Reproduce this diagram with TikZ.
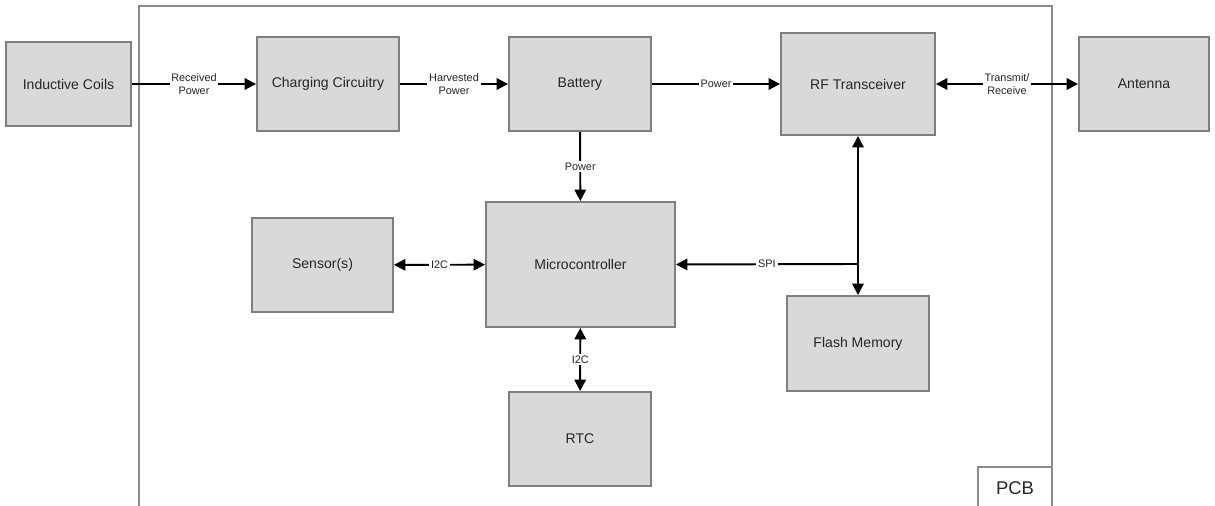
\documentclass[tikz,border=0pt]{standalone}
\usepackage{fontspec}
\setmainfont{Liberation Sans}
\usetikzlibrary{arrows.meta, positioning}
\definecolor{cfill}{HTML}{D9D9D9}
\definecolor{cedge}{HTML}{7F7F7F}
\definecolor{cframe}{HTML}{8C8C8C}
\definecolor{ctext}{HTML}{262626}
\tikzset{
  every picture/.style={line width=1pt},
  block/.style={draw=cedge, fill=cfill, line width=1.1pt, align=center, inner sep=2pt, text=ctext,
    font=\fontsize{8}{9.5}\selectfont, minimum width=#1},
  block/.default=2.84cm,
  link/.style={draw=black, line width=1.1pt},
  tip/.style={-{Triangle[length=6.5pt, width=6.5pt]}},
  tips/.style={{Triangle[length=6.5pt, width=6.5pt]}-{Triangle[length=6.5pt, width=6.5pt]}},
  lbl/.style={fill=white, inner sep=1pt, align=center, text=ctext, font=\fontsize{6.2}{7}\selectfont},
}

\begin{document}
\begin{tikzpicture}[x=0.02cm, y=-0.02cm]
  \useasboundingbox (0,0) rectangle (1215,506);
  % PCB outline, open at the bottom edge
  \draw[cframe, line width=1.1pt] (139,520) -- (139,6) -- (1052,6) -- (1052,520);
  \draw[cframe, line width=1.1pt] (978,520) -- (978,467) -- (1052,467);
  \node[text=ctext, font=\fontsize{10.5}{12}\selectfont] (pcb) at (1015,488) {PCB};
  % top row
  \node[block=2.5cm, minimum height=1.68cm] (coils) at (68.5,84) {Inductive Coils};
  \node[block, minimum height=1.88cm] (charge) at (328,84) {Charging Circuitry};
  \node[block, minimum height=1.88cm] (battery) at (580,84) {Battery};
  \node[block=3.08cm, minimum height=2.04cm] (rf) at (858,84) {RF Transceiver};
  \node[block=2.6cm, minimum height=1.88cm] (antenna) at (1144,84) {Antenna};
  % middle and bottom
  \node[block=2.82cm, minimum height=1.88cm] (sensor) at (322.5,265) {Sensor(s)};
  \node[block=3.78cm, minimum height=2.5cm] (mcu) at (580.5,264.5) {Microcontroller};
  \node[block, minimum height=1.88cm] (rtc) at (580,439) {RTC};
  \node[block, minimum height=1.9cm] (flash) at (858,343.5) {Flash Memory};
  % power path
  \draw[link, tip] (coils) -- (charge) node[lbl, midway] {Received\\Power};
  \draw[link, tip] (charge) -- (battery) node[lbl, midway] {Harvested\\Power};
  \draw[link, tip] (battery) -- (rf) node[lbl, midway] {Power};
  \draw[link, tips] (rf) -- (antenna) node[lbl, midway] {Transmit/\\Receive};
  \draw[link, tip] (battery) -- (mcu) node[lbl, midway] {Power};
  % buses
  \draw[link, tips] (sensor) -- (mcu) node[lbl, midway] {I2C};
  \draw[link, tips] (mcu) -- (rtc) node[lbl, midway] {I2C};
  \draw[link, tips] (rf) -- (flash);
  \coordinate (spi) at (858,264);
  \draw[link, tip] (spi) -- (mcu.east) node[lbl, midway] {SPI};
\end{tikzpicture}
\end{document}
